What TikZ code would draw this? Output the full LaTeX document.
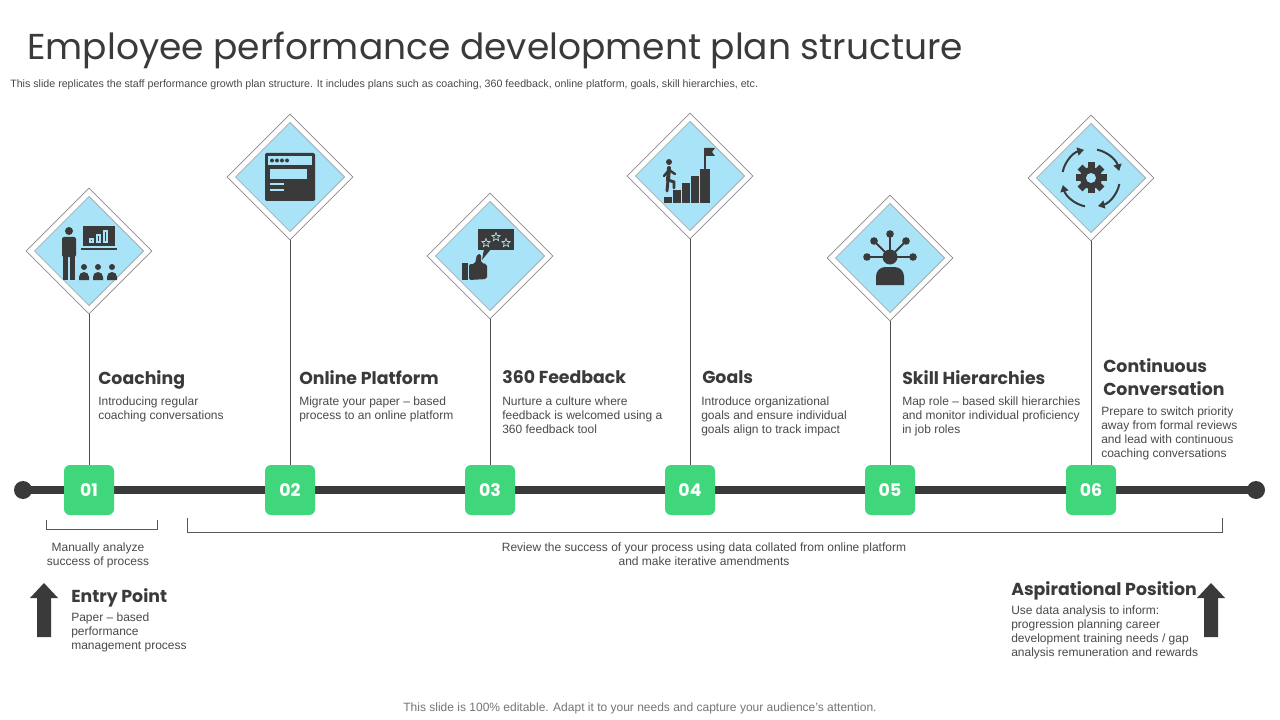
\documentclass[tikz,border=0pt]{standalone}
\usepackage{fontspec}
\setmainfont{Liberation Sans}
\newfontfamily\headfont{Poppins}
\usetikzlibrary{shapes.geometric,arrows.meta}
\definecolor{ink}{HTML}{3A3A3A}
\definecolor{txt}{HTML}{4A4A4A}
\definecolor{skyb}{HTML}{A9E3F8}
\definecolor{grn}{HTML}{40D67B}
\definecolor{rim}{HTML}{8A8A8A}
\tikzset{
 outerd/.style={diamond, aspect=1, inner sep=0pt, minimum width=94.5pt, minimum height=94.5pt, fill=white, draw=rim, line width=0.5pt},
 innerd/.style={diamond, aspect=1, inner sep=0pt, minimum width=82pt, minimum height=82pt, fill=skyb, draw=rim!80, line width=0.5pt},
 numbox/.style={rectangle, rounded corners=4.5pt, fill=grn, minimum width=37.5pt, minimum height=37.5pt, text=white, font=\headfont\bfseries\fontsize{13}{13}\selectfont, inner sep=0pt},
 stem/.style={draw=ink!90, line width=0.6pt},
 heading/.style={anchor=north west, inner sep=0pt, text=ink, font=\headfont\bfseries\fontsize{13}{17.2}\selectfont, align=left},
 desc/.style={anchor=north west, inner sep=0pt, text=txt, font=\fontsize{9}{10.5}\selectfont, align=left},
 ctext/.style={anchor=north, inner sep=0pt, text=txt, font=\fontsize{9}{10.5}\selectfont, align=center},
 icon/.style={fill=ink},
 bracket/.style={draw=ink!85, line width=0.6pt},
 blockarrow/.style={fill=ink},
}
\begin{document}
\begin{tikzpicture}[x=0.75pt,y=-0.75pt]
\useasboundingbox (0,0) rectangle (1280,720);
\fill[white] (0,0) rectangle (1280,720);

% title
\node[anchor=base west, inner sep=0pt, text=ink, font=\headfont\fontsize{27}{30}\selectfont] (title) at (27,60) {Employee performance development plan structure};
\node[anchor=base west, inner sep=0pt, text=txt, font=\fontsize{8}{9}\selectfont] (sub) at (10,88) {This slide replicates the staff performance growth plan structure. It includes plans such as coaching, 360 feedback, online platform, goals, skill hierarchies, etc.};

% timeline
\coordinate (tl) at (23,490);
\coordinate (tr) at (1256,490);
\draw[ink, line width=5.3pt] (tl) -- (tr);
\fill[ink] (tl) circle (9);
\fill[ink] (tr) circle (9);

% diamonds
\node[outerd] (o1) at (89,251) {};  \node[innerd] (i1) at (89,251) {};
\node[outerd] (o2) at (290,177) {}; \node[innerd] (i2) at (290,177) {};
\node[outerd] (o3) at (490,256) {}; \node[innerd] (i3) at (490,256) {};
\node[outerd] (o4) at (690,176) {}; \node[innerd] (i4) at (690,176) {};
\node[outerd] (o5) at (890,258) {}; \node[innerd] (i5) at (890,258) {};
\node[outerd] (o6) at (1091,178) {}; \node[innerd] (i6) at (1091,178) {};

% number boxes
\node[numbox] (n1) at (89,490) {01};
\node[numbox] (n2) at (290,490) {02};
\node[numbox] (n3) at (490,490) {03};
\node[numbox] (n4) at (690,490) {04};
\node[numbox] (n5) at (890,490) {05};
\node[numbox] (n6) at (1091,490) {06};

% stems
\draw[stem] (o1.south) -- (n1.north);
\draw[stem] (o2.south) -- (n2.north);
\draw[stem] (o3.south) -- (n3.north);
\draw[stem] (o4.south) -- (n4.north);
\draw[stem] (o5.south) -- (n5.north);
\draw[stem] (o6.south) -- (n6.north);

% icon 1 coaching
\begin{scope}[shift={(89,251)}]
\fill[icon] (-20,-20) circle (4);
\fill[icon, rounded corners=1.5] (-27,-14) rectangle (-13,6);
\fill[icon] (-26,4) rectangle (-20.7,29);
\fill[icon] (-19.3,4) rectangle (-14,29);
\fill[icon] (-6,-25) rectangle (26,-5);
\draw[ink, line width=1.2pt] (-8,-2) -- (28,-2);
\draw[skyb, line width=0.8pt] (1,-9) rectangle (4,-12) (8,-9) rectangle (11,-16) (15,-9) rectangle (18,-20);
\foreach \x in {-5,9,23}{
  \fill[icon] (\x,16) circle (3);
  \fill[icon] (\x-5,29) -- (\x-5,26) arc[start angle=180, end angle=360, radius=5] -- (\x+5,29) -- cycle;
}
\end{scope}

% icon 2 online platform
\begin{scope}[shift={(290,177)}]
\fill[icon, rounded corners=1] (-25,-24) rectangle (25,24);
\fill[skyb] (-22,-21) rectangle (22,-12);
\foreach \x in {-18,-13,-8,-3} \fill[icon] (\x,-16.5) circle (2);
\fill[skyb] (-20,-8) rectangle (17,2);
\fill[skyb] (-20,6) rectangle (-6,8.5);
\fill[skyb] (-20,12) rectangle (-6,14.5);
\end{scope}

% icon 3 360 feedback
\begin{scope}[shift={(490,256)}]
\fill[icon] (-12,-27) rectangle (24,-6);
\fill[icon] (-6,-7) -- (-8,4) -- (1,-7) -- cycle;
\foreach \cx/\cy in {-4/-13, 6/-19, 16/-13}{
  \draw[skyb, line width=0.5pt, shift={(\cx,\cy)}] (-90:4.5) \foreach \i in {1,...,9}{ -- ({-90+36*\i}:{mod(\i,2)==1 ? 1.9 : 4.5}) } -- cycle;
}
\fill[icon] (-28,7) rectangle (-22,24);
\fill[icon, rounded corners=1.5] (-21,8) -- (-15,8) -- (-13,-2) -- (-9,-2) -- (-9,7) -- (-3,8) -- (-3,23) -- (-21,24) -- cycle;
\end{scope}

% icon 4 goals
\begin{scope}[shift={(690,176)}]
\fill[icon] (-26,21) rectangle (-18,27);
\fill[icon] (-17,14) rectangle (-9,27);
\fill[icon] (-8,7) rectangle (0,27);
\fill[icon] (1,0) rectangle (9,27);
\fill[icon] (10,-7) rectangle (20,27);
\draw[ink, line width=1pt] (15,-7) -- (15,-28);
\fill[icon] (15,-28) -- (25,-28) -- (22,-24) -- (25,-20) -- (15,-20) -- cycle;
\fill[icon] (-21,-14) circle (3);
\draw[ink, line width=3pt, line cap=round] (-21,-8) -- (-22,4);
\draw[ink, line width=2.2pt, line cap=round] (-22,4) -- (-23,15);
\draw[ink, line width=2.2pt, line cap=round] (-22,4) -- (-16,6) -- (-16,12);
\draw[ink, line width=1.8pt, line cap=round] (-21,-6) -- (-15,-2);
\draw[ink, line width=1.8pt, line cap=round] (-21,-6) -- (-26,0);
\end{scope}

% icon 5 skill hierarchies
\begin{scope}[shift={(890,258)}]
\foreach \p in {(0,-24),(-16,-17),(16,-17),(-23,-1),(23,-1)}{
  \draw[ink, line width=1.4pt] (0,-1) -- \p;
  \fill[icon] \p circle (3.8);
}
\fill[icon] (0,-1) circle (7.5);
\fill[icon] (-14,27) [rounded corners=7] -- (-14,9) -- (14,9) [sharp corners] -- (14,27) -- cycle;
\end{scope}

% icon 6 continuous conversation
\begin{scope}[shift={(1091,178)}]
\fill[icon] (0,0) circle (11);
\foreach \a in {0,45,...,315} \fill[icon, rotate=\a] (-3.5,-15.5) rectangle (3.5,0);
\fill[skyb] (0,0) circle (5);
\foreach \a in {0,90,180,270}
  \draw[ink, line width=1.5pt, -{Triangle[length=5pt,width=6pt]}] ({\a+12}:29) arc[start angle=\a+12, end angle=\a+76, radius=29];
\end{scope}

% headings and descriptions
\node[heading] (h1) at (98,370) {Coaching};
\node[desc] (t1) at (98,397) {Introducing regular\\coaching conversations};
\node[heading] (h2) at (299,370) {Online Platform};
\node[desc] (t2) at (299,397) {Migrate your paper -- based\\process to an online platform};
\node[heading] (h3) at (502,370) {360 Feedback};
\node[desc] (t3) at (502,397) {Nurture a culture where\\feedback is welcomed using a\\360 feedback tool};
\node[heading] (h4) at (702,370) {Goals};
\node[desc] (t4) at (701,397) {Introduce organizational\\goals and ensure individual\\goals align to track impact};
\node[heading] (h5) at (902,370) {Skill Hierarchies};
\node[desc] (t5) at (902,397) {Map role -- based skill hierarchies\\and monitor individual proficiency\\in job roles};
\node[heading] (h6) at (1103,358) {Continuous\\Conversation};
\node[desc] (t6) at (1101,407) {Prepare to switch priority\\away from formal reviews\\and lead with continuous\\coaching conversations};

% brackets
\draw[bracket] (46,520) -- (46,529) -- (157,529) -- (157,520);
\draw[bracket] (187,518) -- (187,532) -- (1222,532) -- (1222,518);
\node[ctext] (b1) at (98,543) {Manually analyze\\success of process};
\node[ctext] (b2) at (704,543) {Review the success of your process using data collated from online platform\\and make iterative amendments};

% entry point
\fill[blockarrow] (44,583) -- (58,598) -- (51,598) -- (51,637) -- (37,637) -- (37,598) -- (30,598) -- cycle;
\node[heading] (h7) at (71,588) {Entry Point};
\node[desc] (t7) at (71,613) {Paper -- based\\performance\\management process};

% aspirational position
\fill[blockarrow] (1211,583) -- (1225,598) -- (1218,598) -- (1218,637) -- (1204,637) -- (1204,598) -- (1197,598) -- cycle;
\node[heading] (h8) at (1011,581) {Aspirational Position};
\node[desc] (t8) at (1011,606) {Use data analysis to inform:\\progression planning career\\development training needs / gap\\analysis remuneration and rewards};

% footer
\node[anchor=base, inner sep=0pt, text=ink!70, font=\fontsize{9}{10}\selectfont] (foot) at (640,711) {This slide is 100\% editable. Adapt it to your needs and capture your audience’s attention.};
\end{tikzpicture}
\end{document}
